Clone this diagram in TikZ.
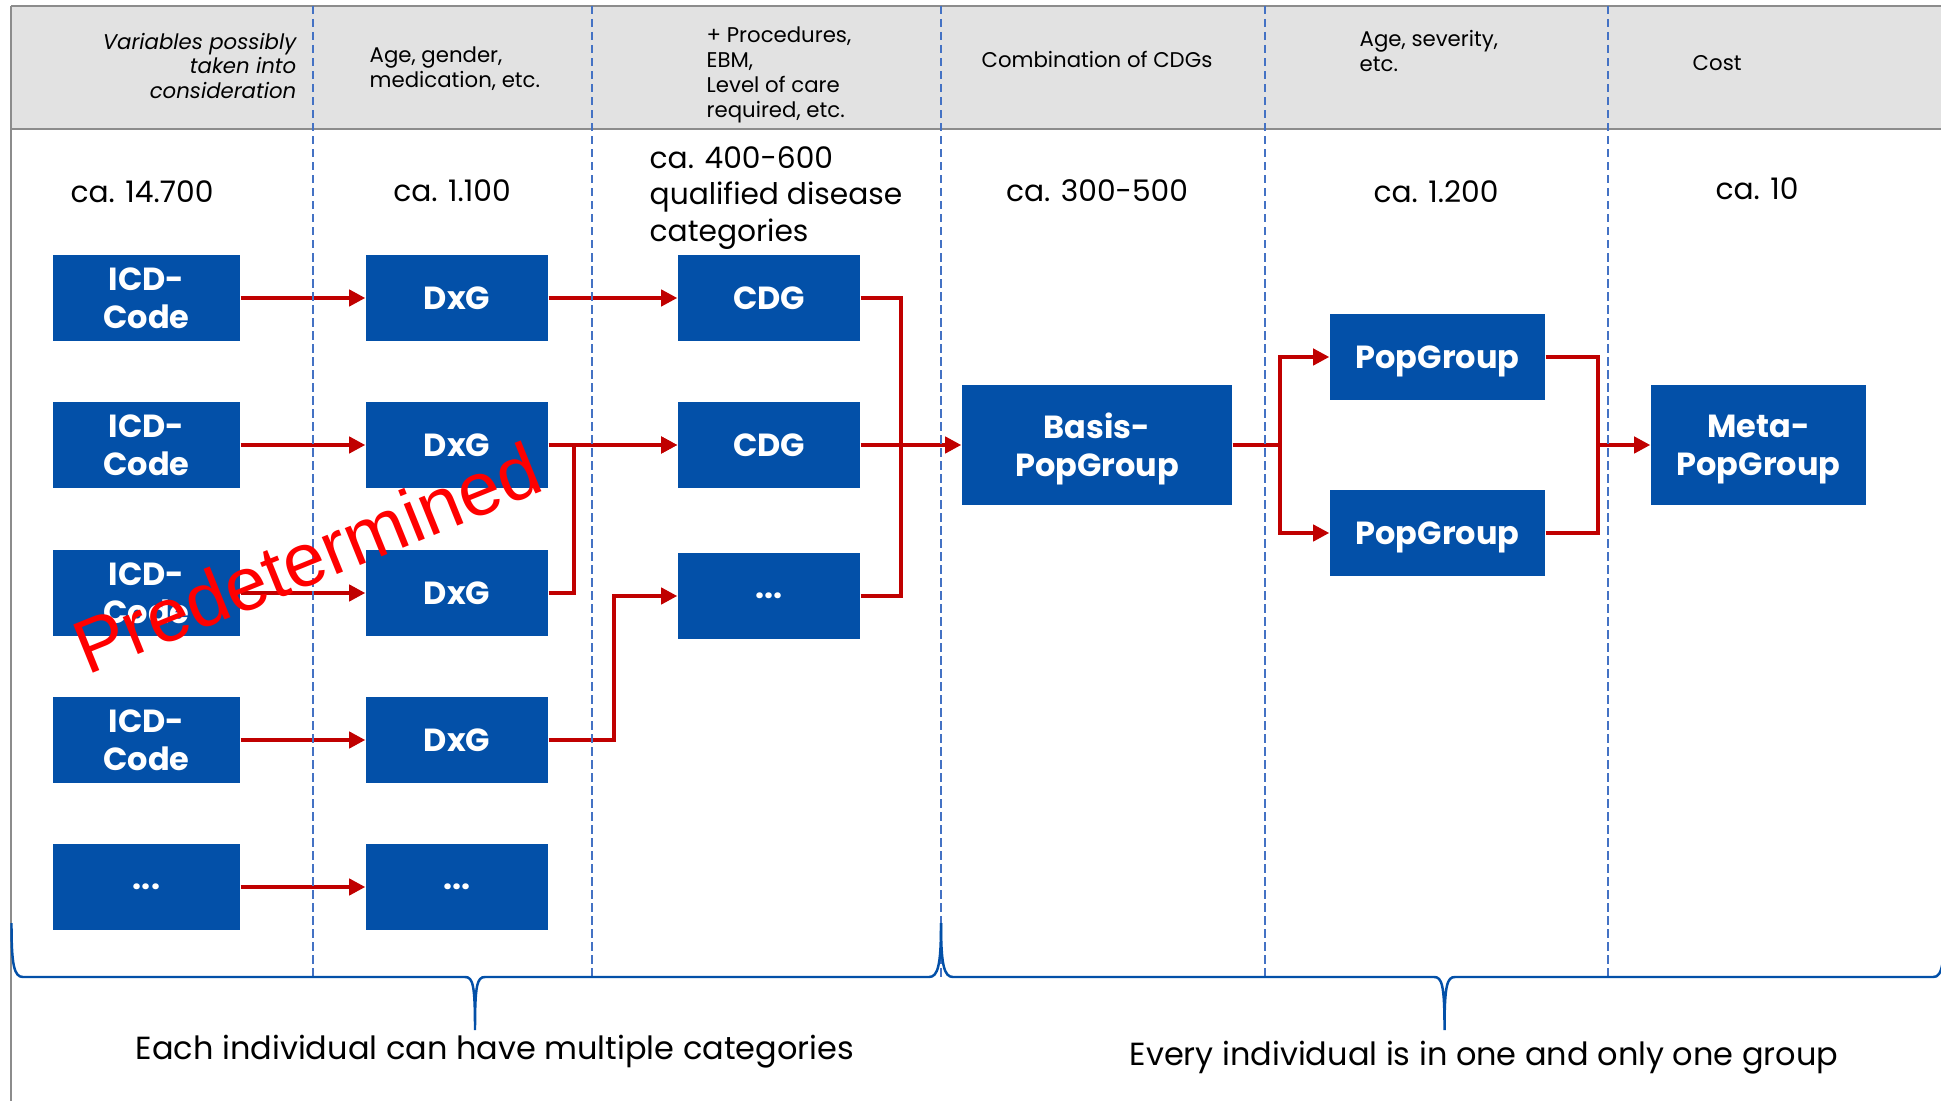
\documentclass[tikz,border=0pt]{standalone}
\usepackage{fontspec}
\setmainfont{Poppins}[Numbers=Proportional]
\newfontfamily\stampfont{Liberation Sans}
\usepackage{tikz}
\usetikzlibrary{arrows.meta}
\definecolor{boxBlue}{HTML}{0350A8}
\definecolor{linkRed}{HTML}{C00000}
\definecolor{sepBlue}{HTML}{4472C4}
\definecolor{headGray}{HTML}{E2E2E2}
\definecolor{rimGray}{HTML}{8C8C8C}
\newcommand{\moredots}{...}

\tikzset{
  box/.style={fill=boxBlue, text=white, align=center, inner sep=0pt,
    minimum height=0.86cm, font=\fontsize{9.1}{10.9}\selectfont\bfseries},
  link/.style={linkRed, line width=1.1pt, -{Triangle[length=4.6pt,width=4.6pt]}},
  feed/.style={linkRed, line width=1.1pt},
  colsep/.style={sepBlue, line width=0.6pt, dash pattern=on 2.4pt off 1.3pt},
  curly/.style={boxBlue, line width=0.7pt},
  head/.style={inner sep=0pt, font=\fontsize{6.05}{7.1}\selectfont},
  count/.style={inner sep=0pt, font=\fontsize{8.45}{10.3}\selectfont},
  note/.style={inner sep=0pt, font=\fontsize{9.1}{11}\selectfont},
}

\begin{document}
\begin{tikzpicture}
  \useasboundingbox (0,0) rectangle (19.41,-11.01);

  % header band
  \fill[headGray] (0.11,-0.06) rectangle (19.41,-1.29);
  \draw[rimGray, line width=0.5pt] (0.11,-0.06) -- (19.41,-0.06);
  \draw[rimGray, line width=0.5pt] (0.11,-1.29) -- (19.41,-1.29);
  \draw[rimGray, line width=0.5pt] (0.11,-0.06) -- (0.11,-11.01);

  \node[anchor=east, align=right, inner sep=0pt,
    font=\fontsize{6.05}{7.1}\selectfont\itshape] (hVar) at (2.97,-0.66)
    {Variables possibly\\taken into\\consideration};
  \node[head, anchor=west, align=left] (hAge) at (3.69,-0.69) {Age, gender,\\medication, etc.};
  \node[head, anchor=west, align=left] (hProc) at (7.06,-0.75)
    {+ Procedures,\\EBM,\\Level of care\\required, etc.};
  \node[head] (hComb) at (10.97,-0.59) {Combination of CDGs};
  \node[head, anchor=west, align=left] (hSev) at (13.59,-0.51) {Age, severity,\\etc.};
  \node[head, anchor=west] (hCost) at (16.92,-0.63) {Cost};

  % counts
  \node[count] (nIcd) at (1.42,-1.92) {ca. 14.700};
  \node[count] (nDxg) at (4.52,-1.91) {ca. 1.100};
  \node[count, anchor=west, align=left] (nCdg) at (6.49,-1.98)
    {ca. 400-600\\qualified disease\\categories};
  \node[count] (nComb) at (10.97,-1.91) {ca. 300-500};
  \node[count] (nPop) at (14.36,-1.92) {ca. 1.200};
  \node[count] (nMeta) at (17.57,-1.89) {ca. 10};

  % boxes
  \foreach \i/\y/\lab/\dlab in {1/-2.98/{ICD-\\Code}/DxG, 2/-4.45/{ICD-\\Code}/DxG,
      3/-5.93/{ICD-\\Code}/DxG, 4/-7.40/{ICD-\\Code}/DxG, 5/-8.87/\moredots/\moredots}{
    \node[box, minimum width=1.87cm] (icd\i) at (1.465,\y) {\lab};
    \node[box, minimum width=1.82cm] (dxg\i) at (4.57,\y) {\dlab};
  }
  \node[box, minimum width=1.82cm] (cdg1) at (7.69,-2.98) {CDG};
  \node[box, minimum width=1.82cm] (cdg2) at (7.69,-4.45) {CDG};
  \node[box, minimum width=1.82cm] (cdg3) at (7.69,-5.96) {\moredots};
  \node[box, minimum width=2.70cm, minimum height=1.20cm, text depth=0pt] (basis) at (10.97,-4.45) {Basis-\\PopGroup};
  \node[box, minimum width=2.15cm, text depth=0pt] (pop1) at (14.375,-3.57) {PopGroup};
  \node[box, minimum width=2.15cm, text depth=0pt] (pop2) at (14.375,-5.33) {PopGroup};
  \node[box, minimum width=2.15cm, minimum height=1.20cm, text depth=0pt] (meta) at (17.585,-4.45) {Meta-\\PopGroup};

  % connectors
  \foreach \i in {1,...,5}{
    \draw[link] (icd\i) -- (dxg\i);
  }
  \draw[link] (dxg1) -- (cdg1);
  \draw[link] (dxg2) -- (cdg2);
  \draw[link] (dxg3.east) -- ++(0.25,0) |- (cdg2.west);
  \draw[link] (dxg4.east) -- ++(0.65,0) |- (cdg3.west);

  \coordinate (jCdg) at (9.01,-4.45);
  \draw[feed] (cdg1.east) -| (jCdg);
  \draw[feed] (cdg3.east) -| (jCdg);
  \draw[link] (cdg2) -- (basis);

  \coordinate (jBasis) at (12.80,-4.45);
  \draw[link] (basis.east) -- (jBasis) |- (pop1.west);
  \draw[link] (jBasis) |- (pop2.west);

  \coordinate (jPop) at (15.98,-4.45);
  \draw[feed] (pop1.east) -| (jPop);
  \draw[feed] (pop2.east) -| (jPop);
  \draw[link] (jPop) -- (meta);

  % column separators
  \foreach \x in {3.13,5.92,9.41,12.65,16.08}{
    \draw[colsep] (\x,-0.06) -- (\x,-9.77);
  }

  % braces
  \draw[curly] (0.115,-9.23) .. controls (0.115,-9.65) and (0.14,-9.77) .. (0.23,-9.77)
    -- (4.65,-9.77) .. controls (4.73,-9.77) and (4.75,-9.85) .. (4.75,-10.30)
    .. controls (4.75,-9.85) and (4.77,-9.77) .. (4.85,-9.77)
    -- (9.29,-9.77) .. controls (9.38,-9.77) and (9.41,-9.65) .. (9.41,-9.23);
  \draw[curly] (9.41,-9.23) .. controls (9.41,-9.65) and (9.44,-9.77) .. (9.53,-9.77)
    -- (14.34,-9.77) .. controls (14.42,-9.77) and (14.445,-9.85) .. (14.445,-10.30)
    .. controls (14.445,-9.85) and (14.47,-9.77) .. (14.55,-9.77)
    -- (19.33,-9.77) .. controls (19.38,-9.77) and (19.41,-9.74) .. (19.43,-9.60);

  \node[note] (noteL) at (4.95,-10.52) {Each individual can have multiple categories};
  \node[note] (noteR) at (14.84,-10.58) {Every individual is in one and only one group};

  % stamp
  \node[anchor=base, rotate=22, text=red, inner sep=0pt,
    font=\stampfont\fontsize{21.5}{24}\selectfont] (stamp) at (3.17,-5.83) {Predetermined};
\end{tikzpicture}
\end{document}
